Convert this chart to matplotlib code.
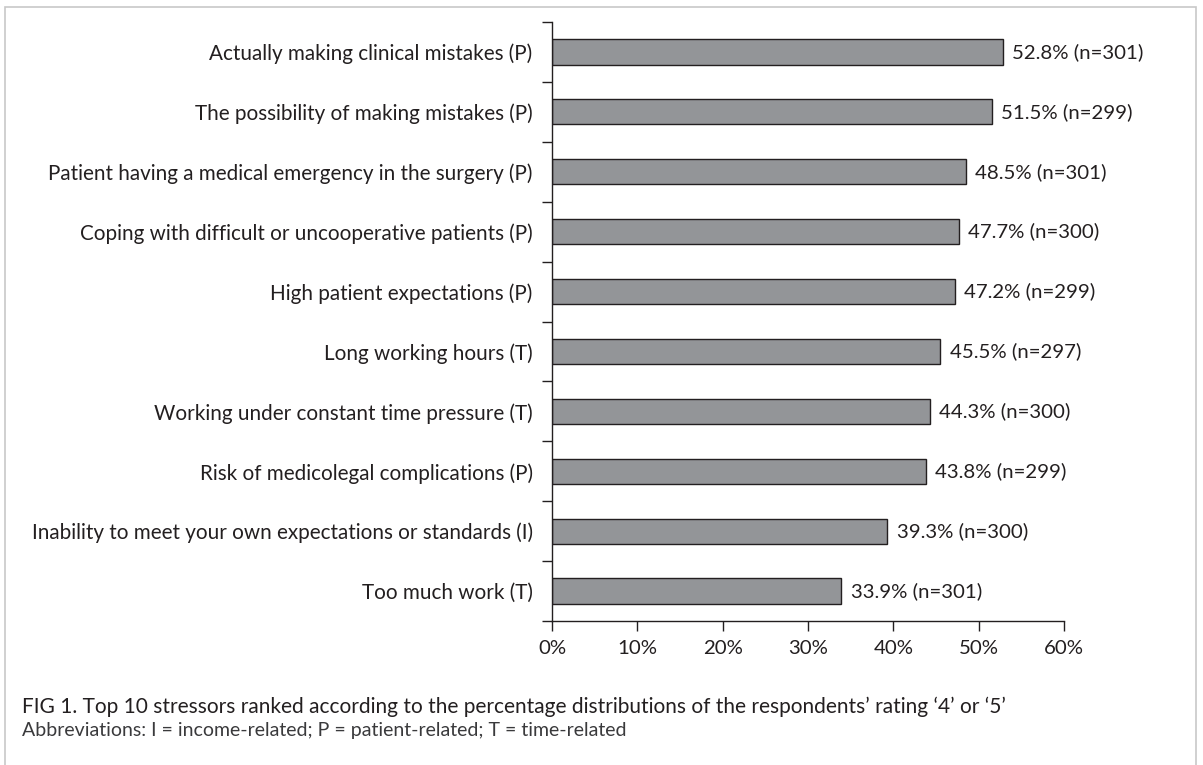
import matplotlib.pyplot as plt
from matplotlib.patches import Rectangle
from matplotlib.ticker import FuncFormatter

stressors = [
    "Actually making clinical mistakes (P)",
    "The possibility of making mistakes (P)",
    "Patient having a medical emergency in the surgery (P)",
    "Coping with difficult or uncooperative patients (P)",
    "High patient expectations (P)",
    "Long working hours (T)",
    "Working under constant time pressure (T)",
    "Risk of medicolegal complications (P)",
    "Inability to meet your own expectations or standards (I)",
    "Too much work (T)",
]
percent = [52.8, 51.5, 48.5, 47.7, 47.2, 45.5, 44.3, 43.8, 39.3, 33.9]
n_resp = [301, 299, 301, 300, 299, 297, 300, 299, 300, 301]
xticks = [0, 10, 20, 30, 40, 50, 60]

plt.rcParams["font.family"] = ["Lato", "DejaVu Sans"]
fig = plt.figure(figsize=(12.03, 7.65), dpi=100)

# light frame around the whole figure
fig.patches.append(Rectangle((5 / 1203, -0.01), 1191 / 1203, 1 - 7 / 765 + 0.01,
                             transform=fig.transFigure, fill=False,
                             edgecolor="#c8c8c8", linewidth=1.2))

ax = fig.add_axes([0.4589, 0.1882, 0.4256, 0.783])
ypos = list(range(len(stressors)))
ax.barh(ypos, percent, height=0.42, color="#939598", edgecolor="#231f20", linewidth=1.0)
for y, p, n in zip(ypos, percent, n_resp):
    ax.text(p + 1.1, y, f"{p}% (n={n})", va="center", ha="left", fontsize=14.7, color="#231f20")

ax.set_ylim(len(stressors) - 0.5, -0.5)
ax.set_xlim(0, 60)
ax.set_yticks(ypos)
ax.set_yticklabels(stressors, fontsize=14.9, color="#231f20")
ax.tick_params(axis="y", which="major", length=0, pad=14)
ax.set_yticks([i - 0.5 for i in range(len(stressors) + 1)], minor=True)
ax.tick_params(axis="y", which="minor", length=7, width=1, color="#231f20", direction="out")
ax.set_xticks(xticks)
ax.xaxis.set_major_formatter(FuncFormatter(lambda v, _: f"{int(v)}%"))
ax.tick_params(axis="x", length=7, width=1, color="#231f20", labelsize=14.7, labelcolor="#231f20", pad=7)
for s in ["top", "right"]:
    ax.spines[s].set_visible(False)
for s in ["left", "bottom"]:
    ax.spines[s].set_color("#231f20")
    ax.spines[s].set_linewidth(1.0)

fig.text(22 / 1203, 1 - 713 / 765, "FIG 1. Top 10 stressors ranked according to the percentage distributions of the respondents\u2019 rating \u20184\u2019 or \u20185\u2019",
         fontsize=15, color="#231f20", va="baseline")
fig.text(22 / 1203, 1 - 736 / 765, "Abbreviations: I = income-related; P = patient-related; T = time-related",
         fontsize=14, color="#3a3a3c", va="baseline")

fig.savefig("out.png", dpi=100)
